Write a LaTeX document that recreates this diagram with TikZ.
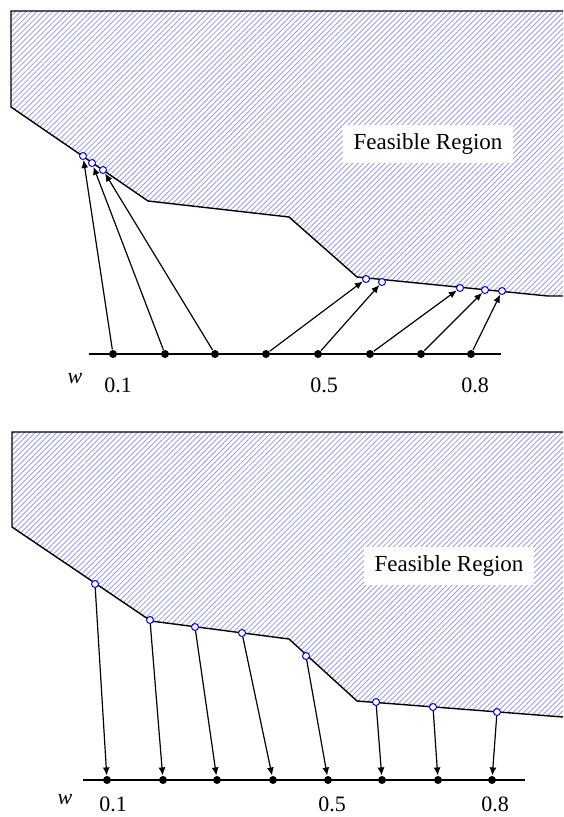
\documentclass[tikz,border=0pt]{standalone}
\usepackage{fontspec}
\setmainfont{Liberation Serif}
\usetikzlibrary{arrows.meta,patterns.meta}
\definecolor{hatchblue}{RGB}{155,155,245}

\begin{document}
\begin{tikzpicture}[x=1pt,y=-1pt,line width=1.2pt,>={Latex[length=8pt,width=7pt]},
  wdot/.style={circle,fill=black,inner sep=0pt,minimum size=8pt},
  sol/.style={circle,draw=blue,line width=1pt,fill=white,inner sep=0pt,minimum size=7pt},
  tick/.style={inner sep=0pt,font=\fontsize{22}{22}\selectfont},
  region/.style={fill=white,inner sep=0pt,minimum width=170pt,minimum height=38pt,font=\fontsize{23}{23}\selectfont},
  hatch/.style={pattern={Lines[angle=45,distance=3.8pt,line width=0.85pt]},pattern color=hatchblue}]
  \useasboundingbox (0,0) rectangle (563,817);
  % arriba: region factible y puntos
  \path[hatch] (11,11)--(563,11)--(563,296)--(548,296)--(357,277)--(289,217)--(148,201)--(11,107)--cycle;
  \draw[line width=1.4pt] (563,11)--(11,11)--(11,107)--(148,201)--(289,217)--(357,277)--(548,296)--(563,296);
  \node[region] (tfr) at (428,144){Feasible Region};
  \node[sol] (tp1) at (83,156){}; \node[sol] (tp2) at (92,163){}; \node[sol] (tp3) at (103,170){};
  \node[sol] (tp4) at (366,279){}; \node[sol] (tp5) at (382,282){}; \node[sol] (tp6) at (460,288){};
  \node[sol] (tp7) at (485,290){}; \node[sol] (tp8) at (502,291){};
  % eje de pesos (arriba)
  \coordinate (ta1) at (89,354); \coordinate (ta2) at (501,354);
  \draw[line width=1.4pt] (ta1)--(ta2);
  \node[wdot] (tw1) at (113,354){}; \node[wdot] (tw2) at (165,354){}; \node[wdot] (tw3) at (215,354){};
  \node[wdot] (tw4) at (266,354){}; \node[wdot] (tw5) at (318,354){}; \node[wdot] (tw6) at (370,354){};
  \node[wdot] (tw7) at (421,354){}; \node[wdot] (tw8) at (471,354){};
  \node[tick] (tlw) at (75,379){\textit{w}};
  \node[tick] (tl1) at (118,385){0.1}; \node[tick] (tl5) at (324,385){0.5}; \node[tick] (tl8) at (475,385){0.8};
  \draw[->] (tw1)--(tp1); \draw[->] (tw2)--(tp2); \draw[->] (tw3)--(tp3); \draw[->] (tw4)--(tp4);
  \draw[->] (tw5)--(tp5); \draw[->] (tw6)--(tp6); \draw[->] (tw7)--(tp7); \draw[->] (tw8)--(tp8);
  % abajo: region factible y puntos
  \path[hatch] (12,432)--(563,432)--(563,717)--(357,701)--(289,639)--(151,621)--(12,527)--cycle;
  \draw[line width=1.4pt] (563,432)--(12,432)--(12,527)--(151,621)--(289,639)--(357,701)--(563,717);
  \node[region] (bfr) at (449,566){Feasible Region};
  \node[sol] (bp1) at (95,584){}; \node[sol] (bp2) at (150,620){}; \node[sol] (bp3) at (195,627){};
  \node[sol] (bp4) at (242,633){}; \node[sol] (bp5) at (306,656){}; \node[sol] (bp6) at (376,702){};
  \node[sol] (bp7) at (433,707){}; \node[sol] (bp8) at (497,712){};
  % eje de pesos (abajo)
  \coordinate (ba1) at (83,780); \coordinate (ba2) at (525,780);
  \draw[line width=1.4pt] (ba1)--(ba2);
  \node[wdot] (bw1) at (107,780){}; \node[wdot] (bw2) at (163,780){}; \node[wdot] (bw3) at (217,780){};
  \node[wdot] (bw4) at (273,780){}; \node[wdot] (bw5) at (328,780){}; \node[wdot] (bw6) at (382,780){};
  \node[wdot] (bw7) at (438,780){}; \node[wdot] (bw8) at (492,780){};
  \node[tick] (blw) at (65,800){\textit{w}};
  \node[tick] (bl1) at (113,804){0.1}; \node[tick] (bl5) at (332,804){0.5}; \node[tick] (bl8) at (495,804){0.8};
  \draw[->] (bp1)--(bw1); \draw[->] (bp2)--(bw2); \draw[->] (bp3)--(bw3); \draw[->] (bp4)--(bw4);
  \draw[->] (bp5)--(bw5); \draw[->] (bp6)--(bw6); \draw[->] (bp7)--(bw7); \draw[->] (bp8)--(bw8);
\end{tikzpicture}
\end{document}
